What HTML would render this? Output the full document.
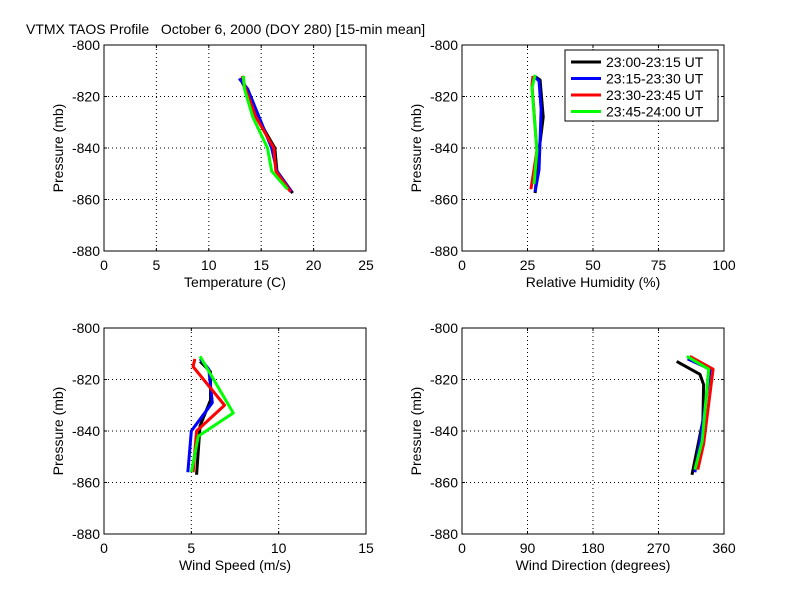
<!DOCTYPE html>
<html><head><meta charset="utf-8"><style>
body{margin:0;background:#fff;}
svg{display:block;font-family:"Liberation Sans",sans-serif;}
</style></head><body>
<svg id="fig" width="800" height="600" viewBox="0 0 800 600">
<rect width="800" height="600" fill="#fff"/>
<text x="26" y="34" font-size="14" style="white-space:pre" xml:space="preserve">VTMX TAOS Profile   October 6, 2000 (DOY 280) [15-min mean]</text>
</svg>
<script>
// Temperature (C)
const tempBlackX=[13.0,13.5,14.6,16.3,16.5,18.0], tempBlackP=[-813,-817,-828,-840,-849,-857.5];
const tempBlueX=[12.9,13.7,14.8,16.0,16.5,17.9], tempBlueP=[-813,-817,-828,-840,-849,-857];
const tempRedX=[13.2,13.5,14.5,16.2,16.4,17.8], tempRedP=[-812,-817,-828,-840,-849,-857];
const tempGreenX=[13.3,13.4,14.2,15.6,16.0,17.5], tempGreenP=[-812,-817,-828,-840,-849,-856];
// Relative humidity (%)
const rhBlackX=[27.5,29.8,31,29.4,27.9], rhBlackP=[-812,-813.6,-828,-841,-857.5];
const rhBlueX=[27.5,29.4,30.2,29.4,27.9], rhBlueP=[-812,-814,-825,-848.5,-857];
const rhRedX=[27.1,26.7,28.6,26.3], rhRedP=[-812,-815.5,-841,-856];
const rhGreenX=[27.9,26.7,28.6,27.5], rhGreenP=[-811.6,-816.7,-841,-854];
// Wind speed (m/s)
const wsBlackX=[5.5,6.1,6.1,5.5,5.3], wsBlackP=[-813,-817,-828,-838,-857];
const wsBlueX=[5.5,6.0,6.2,5.0,4.8], wsBlueP=[-812,-816,-829,-840,-856];
const wsRedX=[5.2,5.1,6.9,5.3,5.1], wsRedP=[-812,-815,-830,-840,-856];
const wsGreenX=[5.5,7.4,5.4,5.0], wsGreenP=[-811,-833,-842,-856];
// Wind direction (degrees)
const wdBlackX=[295,327,332,331,316], wdBlackP=[-813,-818,-822,-836,-857];
const wdBlueX=[310,341,327,320], wdBlueP=[-812,-816,-844,-856];
const wdRedX=[313,345,332,324], wdRedP=[-811,-816,-845,-855];
const wdGreenX=[309,339,330,320], wdGreenP=[-811,-816,-844,-855];

const yTicks=[-800,-820,-840,-860,-880];
const tempTicks=[0,5,10,15,20,25], rhTicks=[0,25,50,75,100], wsTicks=[0,5,10,15], wdTicks=[0,90,180,270,360];
const seriesNames=["23:00-23:15 UT","23:15-23:30 UT","23:30-23:45 UT","23:45-24:00 UT"];
const colors=["#000","#0000ff","#ff0000","#00ff00"];

const NS="http://www.w3.org/2000/svg", svg=document.getElementById('fig');
function mk(t,a,p){const e=document.createElementNS(NS,t);for(const k in a)e.setAttribute(k,a[k]);(p||svg).appendChild(e);return e;}

const panels=[
 {key:'temperature',x0:104,y0:45,xt:tempTicks,label:'Temperature (C)',s:[[tempBlackX,tempBlackP],[tempBlueX,tempBlueP],[tempRedX,tempRedP],[tempGreenX,tempGreenP]]},
 {key:'humidity',x0:462,y0:45,xt:rhTicks,label:'Relative Humidity (%)',s:[[rhBlackX,rhBlackP],[rhBlueX,rhBlueP],[rhRedX,rhRedP],[rhGreenX,rhGreenP]]},
 {key:'wind-speed',x0:104,y0:328,xt:wsTicks,label:'Wind Speed (m/s)',s:[[wsBlackX,wsBlackP],[wsBlueX,wsBlueP],[wsRedX,wsRedP],[wsGreenX,wsGreenP]]},
 {key:'wind-direction',x0:462,y0:328,xt:wdTicks,label:'Wind Direction (degrees)',s:[[wdBlackX,wdBlackP],[wdBlueX,wdBlueP],[wdRedX,wdRedP],[wdGreenX,wdGreenP]]}
];
const W=262,H=206;
panels.forEach(pn=>{
 const g=mk('g',{});
 
 
 const xmin=pn.xt[0],xmax=pn.xt[pn.xt.length-1];
 const sx=v=>pn.x0+(v-xmin)/(xmax-xmin)*W;
 const sy=v=>pn.y0+(-800-v)/80*H;
 mk('rect',{x:pn.x0,y:pn.y0,width:W,height:H,fill:'#fff'},g);
 pn.xt.forEach(t=>{const x=sx(t);
  if(t!==xmin&&t!==xmax)mk('line',{x1:x,y1:pn.y0,x2:x,y2:pn.y0+H,stroke:'#000','stroke-width':1,'stroke-dasharray':'1,3'},g);
  mk('line',{x1:x,y1:pn.y0+H,x2:x,y2:pn.y0+H-3,stroke:'#000'},g);
  mk('line',{x1:x,y1:pn.y0,x2:x,y2:pn.y0+3,stroke:'#000'},g);
  const tx=mk('text',{x:x,y:pn.y0+H+19,'font-size':14,'text-anchor':'middle'},g);tx.textContent=t;
  
  
 });
 yTicks.forEach(t=>{const y=sy(t);
  if(t!==-800&&t!==-880)mk('line',{x1:pn.x0,y1:y,x2:pn.x0+W,y2:y,stroke:'#000','stroke-width':1,'stroke-dasharray':'1,3'},g);
  mk('line',{x1:pn.x0,y1:y,x2:pn.x0+3,y2:y,stroke:'#000'},g);
  mk('line',{x1:pn.x0+W,y1:y,x2:pn.x0+W-3,y2:y,stroke:'#000'},g);
  const ty=mk('text',{x:pn.x0-4,y:y+5,'font-size':14,'text-anchor':'end'},g);ty.textContent=t;
  
  
 });
 mk('rect',{x:pn.x0,y:pn.y0,width:W,height:H,fill:'none',stroke:'#000'},g);
 const xl=mk('text',{x:pn.x0+W/2,y:pn.y0+H+36,'font-size':14,'text-anchor':'middle'},g);xl.textContent=pn.label;
 
 
 const yl=mk('text',{x:0,y:0,'font-size':14,'text-anchor':'middle',transform:`translate(${pn.x0-41},${pn.y0+H/2}) rotate(-90)`},g);yl.textContent='Pressure (mb)';
 
 
 pn.s.forEach((s,i)=>{
  const pts=s[0].map((v,j)=>sx(v)+','+sy(s[1][j])).join(' ');
  const l=mk('polyline',{points:pts,fill:'none',stroke:colors[i],'stroke-width':3,'stroke-linejoin':'round'},g);
  
  
 });
});
// legend
const lg=mk('g',{});


mk('rect',{x:565,y:50,width:153,height:71,fill:'#fff',stroke:'#000'},lg);
seriesNames.forEach((n,i)=>{
 const y=62+i*16.5;
 const e=mk('line',{x1:571,y1:y,x2:601,y2:y,stroke:colors[i],'stroke-width':3},lg);
 
 
 const t=mk('text',{x:606,y:y+5,'font-size':14},lg);t.textContent=n;
 
 
});
</script>
</body></html>
